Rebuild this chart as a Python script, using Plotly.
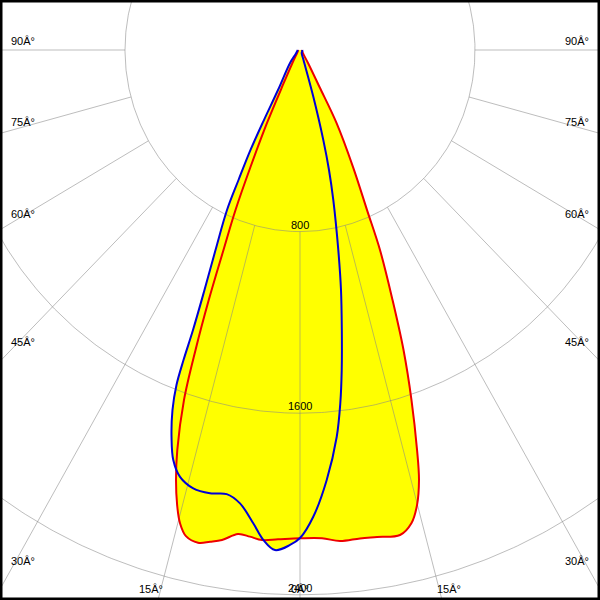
import numpy as np
import plotly.graph_objects as go

# Luminous intensity (cd) versus gamma angle (deg) in four half-planes
# red plane: C0 (right) / C180 (left); blue plane: C90 (right) / C270 (left)
c0_gamma = [0, 2.68, 4.83, 7.27, 9.32, 12.08, 13.75, 14.94, 16.02, 16.89, 18.29, 19.70,
            21.01, 22.54, 23.49, 25.18, 27.43, 28.67, 32.6, 40, 50, 70, 90]
c0_cd = [2151, 2153, 2171, 2169, 2174, 2185, 2145, 2075, 1971, 1842, 1624, 1404,
         1180, 954, 769, 570, 362, 186, 68, 25, 15, 10, 10]

c180_gamma = [0, 2.67, 4.6, 6.09, 7.57, 9.38, 10.75, 12.12, 13.68, 14.75, 15.65, 16.66,
              17.66, 18.98, 19.87, 20.74, 21.65, 22.7, 23.71, 25.13, 27.0, 30.7, 40, 50, 70, 90]
c180_cd = [2151, 2158, 2166, 2156, 2151, 2188, 2205, 2220, 2204, 2155, 2082, 1977,
           1849, 1631, 1405, 1178, 948, 764, 563, 355, 168, 72, 25, 15, 10, 10]

c90_gamma = [0, 1.69, 3.69, 5.63, 6.76, 7.70, 8.81, 10.05, 11.24, 12.97, 14.08, 15.04,
             16.47, 19.96, 30, 60, 90]
c90_cd = [2150, 2057, 1898, 1712, 1566, 1423, 1248, 1074, 898, 678, 545, 411,
          215, 47, 15, 12, 10]

c270_gamma = [0, 1.2, 2.97, 4.44, 5.85, 7.82, 9.72, 11.9, 14.18, 16.26, 17.78, 19.01,
              20.18, 20.94, 21.3, 21.63, 22.44, 23.67, 25.33, 26.14, 27.19, 28.1, 29.7,
              38.6, 50, 90]
c270_cd = [2150, 2181, 2206, 2165, 2096, 2016, 1985, 1996, 1992, 1959, 1897, 1803,
           1690, 1580, 1466, 1327, 1144, 962, 780, 638, 495, 350, 203,
           73, 25, 10]

ring_values = [800, 1600, 2400]
ring_labels = ["800", "1600", "2400"]
spoke_angles = [0, 15, 30, 45, 60, 75, 90]
side_labels = ["90Â°", "75Â°", "60Â°", "45Â°", "30Â°"]
bottom_labels = ["15Â°", "0Â°", "15Â°"]


def half_plane(gamma, cd, sign):
    g = np.radians(np.asarray(gamma, dtype=float))
    r = np.asarray(cd, dtype=float)
    return sign * r * np.sin(g), -r * np.cos(g)


def plane_curve(left_g, left_cd, right_g, right_cd):
    xl, yl = half_plane(left_g, left_cd, -1)
    xr, yr = half_plane(right_g, right_cd, 1)
    x = np.concatenate([xl[::-1], xr[1:]])
    y = np.concatenate([yl[::-1], yr[1:]])
    return x, y


red_x, red_y = plane_curve(c180_gamma, c180_cd, c0_gamma, c0_cd)
blue_x, blue_y = plane_curve(c270_gamma, c270_cd, c90_gamma, c90_cd)

YELLOW = "#ffff00"
RED = "#ee0000"
BLUE = "#0000d8"
GRID = "rgba(135,135,135,0.55)"
FONT = dict(family="Liberation Sans, Arial, sans-serif", size=11, color="black")
SMOOTH = 1.0

fig = go.Figure()

# yellow fills
for x, y in [(red_x, red_y), (blue_x, blue_y)]:
    fig.add_trace(go.Scatter(x=x, y=y, mode="lines", fill="toself", fillcolor=YELLOW,
                             line=dict(width=0, color=YELLOW, shape="spline", smoothing=SMOOTH),
                             hoverinfo="skip", showlegend=False))

# grid rings
t = np.linspace(0, 2 * np.pi, 721)
gx, gy = [], []
for rv in ring_values:
    gx += list(rv * np.sin(t)) + [None]
    gy += list(-rv * np.cos(t)) + [None]
# spokes, starting on the first ring
for a in spoke_angles:
    ar = np.radians(a)
    for s in (-1, 1):
        if a == 0 and s == 1:
            continue
        gx += [s * ring_values[0] * np.sin(ar), s * 4000 * np.sin(ar), None]
        gy += [-ring_values[0] * np.cos(ar), -4000 * np.cos(ar), None]
fig.add_trace(go.Scatter(x=gx, y=gy, mode="lines", line=dict(color=GRID, width=1),
                         hoverinfo="skip", showlegend=False))

fig.add_trace(go.Scatter(x=red_x, y=red_y, mode="lines",
                         line=dict(color=RED, width=2, shape="spline", smoothing=SMOOTH),
                         hoverinfo="skip", showlegend=False))
fig.add_trace(go.Scatter(x=blue_x, y=blue_y, mode="lines",
                         line=dict(color=BLUE, width=2, shape="spline", smoothing=SMOOTH),
                         hoverinfo="skip", showlegend=False))

annotations = []
for rv, lab in zip(ring_values, ring_labels):
    annotations.append(dict(x=0, y=-rv, xref="x", yref="y", text=lab, showarrow=False,
                            xanchor="center", yanchor="bottom", yshift=-1, font=FONT))

side_y_px = [41, 122, 214, 342, 561]
for lab, py in zip(side_labels, side_y_px):
    annotations.append(dict(x=9 / 600, y=1 - py / 600, xref="paper", yref="paper", text=lab,
                            showarrow=False, xanchor="left", yanchor="middle", font=FONT))
    annotations.append(dict(x=591 / 600, y=1 - py / 600, xref="paper", yref="paper", text=lab,
                            showarrow=False, xanchor="right", yanchor="middle", font=FONT))
for lab, px in zip(bottom_labels, [151, 300, 449]):
    annotations.append(dict(x=px / 600, y=1 - 589 / 600, xref="paper", yref="paper", text=lab,
                            showarrow=False, xanchor="center", yanchor="middle", font=FONT))

SX = 0.21875  # px per cd, horizontal
SY = 0.227    # px per cd, vertical
fig.update_layout(
    width=600, height=600,
    margin=dict(l=0, r=0, t=0, b=0),
    paper_bgcolor="white", plot_bgcolor="white",
    xaxis=dict(range=[-300 / SX, 300 / SX], visible=False, fixedrange=True),
    yaxis=dict(range=[-550 / SY, 50 / SY], visible=False, fixedrange=True),
    annotations=annotations,
    shapes=[dict(type="rect", xref="paper", yref="paper", x0=0, y0=0, x1=1, y1=1,
                 line=dict(color="black", width=5), layer="above")],
    showlegend=False,
)

fig.write_html("out.html", config={"displayModeBar": False},
               post_script="document.body.style.margin='0';document.body.style.overflow='hidden';")
